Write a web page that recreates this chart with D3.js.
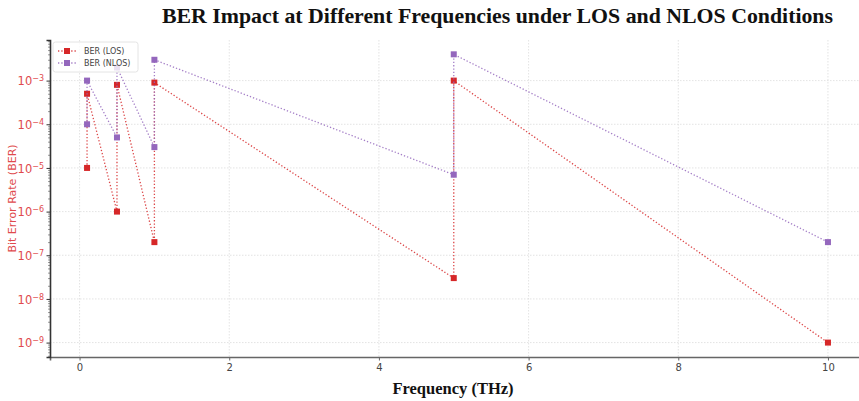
<!DOCTYPE html>
<html>
<head>
<meta charset="utf-8">
<script src="https://cdn.jsdelivr.net/npm/d3@7"></script>
<style>
  body { margin: 0; background: #fff; }
  svg { display: block; }
</style>
</head>
<body>
<svg></svg>
<script>
// data
var losFreq  = [0.1, 0.1, 0.5, 0.5, 1, 1, 5, 5, 10];
var losBer   = [1e-5, 5e-4, 1e-6, 8e-4, 2e-7, 9e-4, 3e-8, 1e-3, 1e-9];
var nlosFreq = [0.1, 0.1, 0.5, 0.5, 1, 1, 5, 5, 10];
var nlosBer  = [1e-4, 1e-3, 5e-5, 2e-3, 3e-5, 3e-3, 7e-6, 4e-3, 2e-7];
var xTicks = [0, 2, 4, 6, 8, 10];
var yExps = [-9, -8, -7, -6, -5, -4, -3];
var seriesNames = ["BER (LOS)", "BER (NLOS)"];
var seriesColors = ["#d62728", "#9467bd"];

function main() {
  var width = 859, height = 401;
  var margin = {left: 50, top: 40, right: -6, bottom: 44};

  var svg = d3.select("svg")
    .attr("width", width)
    .attr("height", height);

  var x = d3.scaleLinear()
    .domain([-0.395, 10.495])
    .range([margin.left, width - margin.right]);

  var y = d3.scaleLog()
    .domain([Math.pow(10, -9.33), Math.pow(10, -2.07)])
    .range([height - margin.bottom, margin.top]);

  var top = margin.top, bottom = height - margin.bottom;
  var left = margin.left, right = width - margin.right;

  // grid
  var grid = svg.append("g")
    .attr("stroke", "#dcdcdc")
    .attr("stroke-width", 0.8)
    .attr("stroke-dasharray", "1.5,1.5");
  grid.selectAll(".gx").data(xTicks).enter().append("line")
    .attr("x1", function(d) { return x(d); })
    .attr("x2", function(d) { return x(d); })
    .attr("y1", top).attr("y2", bottom);
  grid.selectAll(".gy").data(yExps).enter().append("line")
    .attr("x1", left).attr("x2", right)
    .attr("y1", function(d) { return y(Math.pow(10, d)); })
    .attr("y2", function(d) { return y(Math.pow(10, d)); });

  // x axis
  var xAxis = svg.append("g")
    .attr("transform", "translate(0," + bottom + ")")
    .call(d3.axisBottom(x).tickValues(xTicks).tickSize(3.5).tickPadding(3).tickFormat(d3.format("d")));
  xAxis.select(".domain").attr("stroke", "#666").attr("stroke-width", 1.6);
  xAxis.selectAll(".tick line").attr("stroke", "#666");
  xAxis.selectAll(".tick text")
    .attr("fill", "#444")
    .style("font-family", "DejaVu Sans")
    .style("font-size", "10px");

  // y axis with minor ticks
  var minor = [];
  for (var e = -10; e <= -2; e++) {
    for (var m = 2; m <= 9; m++) {
      var v = m * Math.pow(10, e);
      if (v >= y.domain()[0] && v <= y.domain()[1]) minor.push(v);
    }
  }
  var yMinor = svg.append("g")
    .attr("transform", "translate(" + left + ",0)")
    .call(d3.axisLeft(y).tickValues(minor).tickSize(2).tickFormat(""));
  yMinor.select(".domain").remove();
  yMinor.selectAll(".tick line").attr("stroke", "#555").attr("stroke-width", 0.6);

  var yAxis = svg.append("g")
    .attr("transform", "translate(" + left + ",0)")
    .call(d3.axisLeft(y)
      .tickValues(yExps.map(function(d) { return Math.pow(10, d); }))
      .tickSize(3.5).tickPadding(4).tickFormat(""));
  yAxis.select(".domain").attr("stroke", "#333").attr("stroke-width", 1.6);
  yAxis.selectAll(".tick line").attr("stroke", "#333");
  yAxis.selectAll(".tick").each(function(d) {
    var t = d3.select(this).append("text")
      .attr("x", -6).attr("dy", "0.38em")
      .attr("text-anchor", "end")
      .attr("fill", "#e04a4d")
      .style("font-family", "DejaVu Sans")
      .style("font-size", "11.5px");
    t.append("tspan").text("10");
    t.append("tspan").attr("dy", "-0.5em").style("font-size", "8px")
      .text("\u2212" + Math.abs(Math.round(Math.log10(d))));
  });

  // series
  var series = [
    {name: seriesNames[0], color: seriesColors[0], pts: d3.zip(losFreq, losBer)},
    {name: seriesNames[1], color: seriesColors[1], pts: d3.zip(nlosFreq, nlosBer)}
  ];
  var line = d3.line()
    .x(function(d) { return x(d[0]); })
    .y(function(d) { return y(d[1]); });

  series.forEach(function(s) {
    var g = svg.append("g");
    g.append("path")
      .attr("d", line(s.pts))
      .attr("fill", "none")
      .attr("stroke", s.color)
      .attr("stroke-width", 1.3)
      .attr("stroke-dasharray", "1.3,2")
      .attr("opacity", 0.85);
    g.selectAll("rect").data(s.pts).enter().append("rect")
      .attr("x", function(d) { return x(d[0]) - 3; })
      .attr("y", function(d) { return y(d[1]) - 3; })
      .attr("width", 6).attr("height", 6)
      .attr("fill", s.color);
  });

  // legend
  var lg = svg.append("g").attr("transform", "translate(53,42)");
  lg.append("rect")
    .attr("width", 85).attr("height", 30)
    .attr("rx", 2.5)
    .attr("fill", "#fff").attr("fill-opacity", 0.8)
    .attr("stroke", "#ddd").attr("stroke-width", 0.8);
  series.forEach(function(s, i) {
    var yy = 9 + i * 12;
    lg.append("line")
      .attr("x1", 5).attr("x2", 23).attr("y1", yy).attr("y2", yy)
      .attr("stroke", s.color).attr("stroke-width", 1.3)
      .attr("stroke-dasharray", "1.3,2").attr("opacity", 0.85);
    lg.append("rect")
      .attr("x", 11).attr("y", yy - 3).attr("width", 6).attr("height", 6)
      .attr("fill", s.color);
    lg.append("text")
      .attr("x", 31).attr("y", yy).attr("dy", "0.35em")
      .attr("fill", "#444")
      .style("font-family", "DejaVu Sans")
      .style("font-size", "8px")
      .text(s.name);
  });

  // titles
  svg.append("text")
    .attr("x", 162).attr("y", 23)
    .attr("textLength", 671)
    .attr("lengthAdjust", "spacingAndGlyphs")
    .style("font-family", "Liberation Serif")
    .style("font-weight", "bold")
    .style("font-size", "22px")
    .attr("fill", "#111")
    .text("BER Impact at Different Frequencies under LOS and NLOS Conditions");

  svg.append("text")
    .attr("x", 453).attr("y", 394)
    .attr("text-anchor", "middle")
    .style("font-family", "Liberation Serif")
    .style("font-weight", "bold")
    .style("font-size", "16.5px")
    .attr("fill", "#111")
    .text("Frequency (THz)");

  svg.append("text")
    .attr("transform", "translate(16," + ((top + bottom) / 2) + ") rotate(-90)")
    .attr("text-anchor", "middle")
    .attr("fill", "#e04a4d")
    .style("font-family", "DejaVu Sans")
    .style("font-size", "11px")
    .text("Bit Error Rate (BER)");
}

main();
</script>
</body>
</html>
